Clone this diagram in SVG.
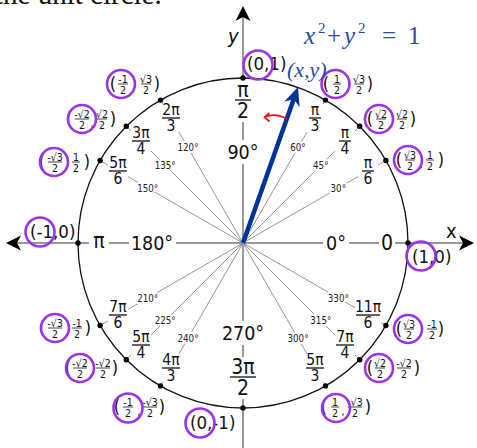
<svg xmlns="http://www.w3.org/2000/svg" width="477" height="448" viewBox="0 0 477 448">
<style>
text{font-family:"DejaVu Sans Condensed","DejaVu Sans",sans-serif;fill:#111}
.ax{stroke:#999;stroke-width:2;fill:none}
.ray{stroke:#8a8a8a;stroke-width:0.9}
.bg{fill:#fff}
.rn{font-size:15.5px;text-anchor:middle}
.bn{font-size:21px;text-anchor:middle}
.rb{stroke:#111;stroke-width:1.3}
.dg{font-size:9.7px;text-anchor:middle;stroke:#fff;stroke-width:4;paint-order:stroke;stroke-linejoin:round;fill:#222}
.bd{font-size:19.5px;text-anchor:middle}
.cp{font-size:18px;text-anchor:middle}
.cf{font-size:10.5px;text-anchor:middle}
.cm{font-size:11px;text-anchor:middle}
.fb{stroke:#111;stroke-width:0.8}
.pc{fill:none;stroke:#9a33ea;stroke-width:2.6}
.dot{fill:#000}
.blue{font-family:"Liberation Serif",serif;font-style:italic;fill:#2a4ca6}
</style>
<g id="title"><text x="-5" y="4" style="font-family:'Liberation Serif',serif;font-size:29px">the unit circle.</text></g>
<g id="connectors">
<g id="rays">
<line class="ray" x1="243" y1="243" x2="385.9" y2="160.5"/>
<line class="ray" x1="243" y1="243" x2="359.7" y2="126.3"/>
<line class="ray" x1="243" y1="243" x2="325.5" y2="100.1"/>
<line class="ray" x1="243" y1="243" x2="160.5" y2="100.1"/>
<line class="ray" x1="243" y1="243" x2="126.3" y2="126.3"/>
<line class="ray" x1="243" y1="243" x2="100.1" y2="160.5"/>
<line class="ray" x1="243" y1="243" x2="100.1" y2="325.5"/>
<line class="ray" x1="243" y1="243" x2="126.3" y2="359.7"/>
<line class="ray" x1="243" y1="243" x2="160.5" y2="385.9"/>
<line class="ray" x1="243" y1="243" x2="325.5" y2="385.9"/>
<line class="ray" x1="243" y1="243" x2="359.7" y2="359.7"/>
<line class="ray" x1="243" y1="243" x2="385.9" y2="325.5"/>
</g>
<g id="axes">
<line class="ax" x1="17" y1="243" x2="463" y2="243"/>
<line class="ax" x1="243" y1="16" x2="243" y2="448"/>
<polygon points="6,243 21,235.5 17,243 21,250.5" fill="#000"/>
<polygon points="474,243 459,235.5 463,243 459,250.5" fill="#000"/>
<polygon points="243,6 250.5,21 243,17 235.5,21" fill="#000"/>
</g>
</g>
<g id="radian-labels">
<g id="r30"><rect class="bg" x="358" y="157" width="20" height="28"/><text class="rn" x="368" y="168">π</text><line class="rb" x1="362" y1="171" x2="374" y2="171"/><text class="rn" x="368" y="184">6</text></g>
<g id="r45"><rect class="bg" x="335" y="127" width="20" height="28"/><text class="rn" x="345" y="138">π</text><line class="rb" x1="339" y1="141" x2="351" y2="141"/><text class="rn" x="345" y="154">4</text></g>
<g id="r60"><rect class="bg" x="305" y="104" width="20" height="28"/><text class="rn" x="315" y="115">π</text><line class="rb" x1="309" y1="118" x2="321" y2="118"/><text class="rn" x="315" y="131">3</text></g>
<g id="r120"><rect class="bg" x="161" y="104" width="20" height="28"/><text class="rn" x="171" y="115">2π</text><line class="rb" x1="162" y1="118" x2="180" y2="118"/><text class="rn" x="171" y="131">3</text></g>
<g id="r135"><rect class="bg" x="131" y="127" width="20" height="28"/><text class="rn" x="141" y="138">3π</text><line class="rb" x1="132" y1="141" x2="150" y2="141"/><text class="rn" x="141" y="154">4</text></g>
<g id="r150"><rect class="bg" x="108" y="157" width="20" height="28"/><text class="rn" x="118" y="168">5π</text><line class="rb" x1="109" y1="171" x2="127" y2="171"/><text class="rn" x="118" y="184">6</text></g>
<g id="r210"><rect class="bg" x="108" y="301" width="20" height="28"/><text class="rn" x="118" y="312">7π</text><line class="rb" x1="109" y1="315" x2="127" y2="315"/><text class="rn" x="118" y="328">6</text></g>
<g id="r225"><rect class="bg" x="131" y="331" width="20" height="28"/><text class="rn" x="141" y="342">5π</text><line class="rb" x1="132" y1="345" x2="150" y2="345"/><text class="rn" x="141" y="358">4</text></g>
<g id="r240"><rect class="bg" x="161" y="354" width="20" height="28"/><text class="rn" x="171" y="365">4π</text><line class="rb" x1="162" y1="368" x2="180" y2="368"/><text class="rn" x="171" y="381">3</text></g>
<g id="r300"><rect class="bg" x="305" y="354" width="20" height="28"/><text class="rn" x="315" y="365">5π</text><line class="rb" x1="306" y1="368" x2="324" y2="368"/><text class="rn" x="315" y="381">3</text></g>
<g id="r315"><rect class="bg" x="335" y="331" width="20" height="28"/><text class="rn" x="345" y="342">7π</text><line class="rb" x1="336" y1="345" x2="354" y2="345"/><text class="rn" x="345" y="358">4</text></g>
<g id="r330"><rect class="bg" x="355" y="301" width="26" height="28"/><text class="rn" x="368" y="312">11π</text><line class="rb" x1="356" y1="315" x2="380" y2="315"/><text class="rn" x="368" y="328">6</text></g>
<g id="r90"><rect class="bg" x="232" y="80" width="22" height="42"/><text class="bn" x="243" y="97">π</text><line class="rb" x1="235" y1="100" x2="251" y2="100"/><text class="bn" x="243" y="118">2</text></g>
<g id="r270"><rect class="bg" x="229" y="357" width="28" height="42"/><text class="bn" x="243" y="374">3π</text><line class="rb" x1="230" y1="377" x2="256" y2="377"/><text class="bn" x="243" y="395">2</text></g>
<g id="r180"><rect class="bg" x="89" y="238" width="20" height="10"/><text class="bn" x="99" y="248">π</text></g>
<g id="r0"><rect class="bg" x="379" y="238" width="16" height="10"/><text class="bn" x="387" y="250">0</text></g>
</g>
<g id="degree-labels">
<text class="dg" x="338.3" y="191.5">30°</text>
<text class="dg" x="320.8" y="168.7">45°</text>
<text class="dg" x="298" y="151.2">60°</text>
<text class="dg" x="188" y="151.2">120°</text>
<text class="dg" x="165.2" y="168.7">135°</text>
<text class="dg" x="147.7" y="191.5">150°</text>
<text class="dg" x="147.7" y="301.5">210°</text>
<text class="dg" x="165.2" y="324.3">225°</text>
<text class="dg" x="188" y="341.8">240°</text>
<text class="dg" x="298" y="341.8">300°</text>
<text class="dg" x="320.8" y="324.3">315°</text>
<text class="dg" x="338.3" y="301.5">330°</text>
<rect class="bg" x="323" y="239" width="26" height="8"/><text class="bd" x="336" y="250">0°</text>
<rect class="bg" x="129" y="239" width="47" height="8"/><text class="bd" x="152" y="250">180°</text>
<rect class="bg" x="238" y="140" width="10" height="24"/><text class="bd" x="243" y="159">90°</text>
<rect class="bg" x="238" y="321" width="10" height="24"/><text class="bd" x="243" y="340">270°</text>
</g>
<g id="circle"><circle cx="243" cy="243" r="165" fill="none" stroke="#111" stroke-width="1.3"/></g>
<g id="points">
<circle class="dot" cx="408" cy="243" r="2.7"/><circle class="dot" cx="385.9" cy="160.5" r="2.7"/><circle class="dot" cx="359.7" cy="126.3" r="2.7"/><circle class="dot" cx="325.5" cy="100.1" r="2.7"/>
<circle class="dot" cx="243" cy="78" r="2.7"/><circle class="dot" cx="160.5" cy="100.1" r="2.7"/><circle class="dot" cx="126.3" cy="126.3" r="2.7"/><circle class="dot" cx="100.1" cy="160.5" r="2.7"/>
<circle class="dot" cx="78" cy="243" r="2.7"/><circle class="dot" cx="100.1" cy="325.5" r="2.7"/><circle class="dot" cx="126.3" cy="359.7" r="2.7"/><circle class="dot" cx="160.5" cy="385.9" r="2.7"/>
<circle class="dot" cx="243" cy="408" r="2.7"/><circle class="dot" cx="325.5" cy="385.9" r="2.7"/><circle class="dot" cx="359.7" cy="359.7" r="2.7"/><circle class="dot" cx="385.9" cy="325.5" r="2.7"/>
</g>
<g id="axis-labels">
<text x="228" y="43" style="font-size:20px;font-style:italic">y</text>
<text x="446" y="238" style="font-size:20px">x</text>
</g>
<g id="coords">
<g id="c0"><text x="412" y="263" style="font-size:18.5px">(1,0)</text><circle class="pc" cx="421" cy="256" r="14.5"/></g>
<g id="c90"><text x="247" y="70" style="font-size:18.5px">(0,1)</text><circle class="pc" cx="258" cy="65" r="14.5"/></g>
<g id="c180"><text x="30" y="238" style="font-size:18.5px">(-1,0)</text><circle class="pc" cx="40" cy="232" r="14.5"/></g>
<g id="c270"><text x="190" y="429" style="font-size:18.5px">(0,-1)</text><circle class="pc" cx="200" cy="423" r="14.5"/></g>
<g id="c60"><text class="cp" x="326" y="90">(</text><text class="cf" x="337" y="82.5">1</text><line class="fb" x1="333" y1="84" x2="341" y2="84"/><text class="cf" x="337" y="93.5">2</text><text class="cm" x="347" y="92">,</text><text class="cf" x="359" y="82.5">√3</text><line class="fb" x1="354" y1="84" x2="364" y2="84"/><text class="cf" x="359" y="93.5">2</text><text class="cp" x="370" y="90">)</text><circle class="pc" cx="335.5" cy="84" r="14"/></g>
<g id="c45"><text class="cp" x="370" y="125">(</text><text class="cf" x="381" y="117.5">√2</text><line class="fb" x1="376" y1="119" x2="386" y2="119"/><text class="cf" x="381" y="128.5">2</text><text class="cm" x="391" y="127">,</text><text class="cf" x="402" y="117.5">√2</text><line class="fb" x1="397" y1="119" x2="407" y2="119"/><text class="cf" x="402" y="128.5">2</text><text class="cp" x="413" y="125">)</text><circle class="pc" cx="379" cy="119" r="14"/></g>
<g id="c30"><text class="cp" x="399" y="166">(</text><text class="cf" x="410" y="158.5">√3</text><line class="fb" x1="405" y1="160" x2="415" y2="160"/><text class="cf" x="410" y="169.5">2</text><text class="cm" x="421" y="168">,</text><text class="cf" x="430" y="158.5">1</text><line class="fb" x1="426" y1="160" x2="434" y2="160"/><text class="cf" x="430" y="169.5">2</text><text class="cp" x="441" y="166">)</text><circle class="pc" cx="408" cy="160" r="14"/></g>
<g id="c120"><text class="cp" x="113" y="90">(</text><text class="cf" x="123" y="82.5">-1</text><line class="fb" x1="118" y1="84" x2="128" y2="84"/><text class="cf" x="123" y="93.5">2</text><text class="cm" x="133" y="92">,</text><text class="cf" x="146" y="82.5">√3</text><line class="fb" x1="141" y1="84" x2="151" y2="84"/><text class="cf" x="146" y="93.5">2</text><text class="cp" x="157" y="90">)</text><circle class="pc" cx="121" cy="84" r="14"/></g>
<g id="c135"><text class="cp" x="69" y="125">(</text><text class="cf" x="82" y="117.5">-√2</text><line class="fb" x1="75" y1="119" x2="89" y2="119"/><text class="cf" x="82" y="128.5">2</text><text class="cm" x="92" y="127">,</text><text class="cf" x="102" y="117.5">√2</text><line class="fb" x1="97" y1="119" x2="107" y2="119"/><text class="cf" x="102" y="128.5">2</text><text class="cp" x="113" y="125">)</text><circle class="pc" cx="82" cy="119" r="14"/></g>
<g id="c150"><text class="cp" x="42" y="168">(</text><text class="cf" x="55" y="160.5">-√3</text><line class="fb" x1="48" y1="162" x2="62" y2="162"/><text class="cf" x="55" y="171.5">2</text><text class="cm" x="66" y="170">,</text><text class="cf" x="76" y="160.5">1</text><line class="fb" x1="72" y1="162" x2="80" y2="162"/><text class="cf" x="76" y="171.5">2</text><text class="cp" x="87" y="168">)</text><circle class="pc" cx="54" cy="162" r="14"/></g>
<g id="c210"><text class="cp" x="42" y="334">(</text><text class="cf" x="55" y="326.5">-√3</text><line class="fb" x1="48" y1="328" x2="62" y2="328"/><text class="cf" x="55" y="337.5">2</text><text class="cm" x="66" y="336">,</text><text class="cf" x="77" y="326.5">-1</text><line class="fb" x1="72" y1="328" x2="82" y2="328"/><text class="cf" x="77" y="337.5">2</text><text class="cp" x="88" y="334">)</text><circle class="pc" cx="55" cy="328" r="14"/></g>
<g id="c225"><text class="cp" x="68" y="374">(</text><text class="cf" x="80" y="366.5">-√2</text><line class="fb" x1="73" y1="368" x2="87" y2="368"/><text class="cf" x="80" y="377.5">2</text><text class="cm" x="91" y="376">,</text><text class="cf" x="103" y="366.5">-√2</text><line class="fb" x1="96" y1="368" x2="110" y2="368"/><text class="cf" x="103" y="377.5">2</text><text class="cp" x="115" y="374">)</text><circle class="pc" cx="80" cy="368" r="14"/></g>
<g id="c240"><text class="cp" x="117" y="413">(</text><text class="cf" x="128" y="405.5">-1</text><line class="fb" x1="123" y1="407" x2="133" y2="407"/><text class="cf" x="128" y="416.5">2</text><text class="cm" x="139" y="415">,</text><text class="cf" x="150" y="405.5">-√3</text><line class="fb" x1="143" y1="407" x2="157" y2="407"/><text class="cf" x="150" y="416.5">2</text><text class="cp" x="162" y="413">)</text><circle class="pc" cx="128" cy="408" r="14.5"/></g>
<g id="c300"><text class="cp" x="324" y="413">(</text><text class="cf" x="335" y="405.5">1</text><line class="fb" x1="331" y1="407" x2="339" y2="407"/><text class="cf" x="335" y="416.5">2</text><text class="cm" x="343" y="415">,</text><text class="cf" x="355" y="405.5">-√3</text><line class="fb" x1="348" y1="407" x2="362" y2="407"/><text class="cf" x="355" y="416.5">2</text><text class="cp" x="368" y="413">)</text><circle class="pc" cx="336" cy="408" r="14"/></g>
<g id="c315"><text class="cp" x="370" y="374">(</text><text class="cf" x="380" y="366.5">√2</text><line class="fb" x1="375" y1="368" x2="385" y2="368"/><text class="cf" x="380" y="377.5">2</text><text class="cm" x="391" y="376">,</text><text class="cf" x="404" y="366.5">-√2</text><line class="fb" x1="397" y1="368" x2="411" y2="368"/><text class="cf" x="404" y="377.5">2</text><text class="cp" x="417" y="374">)</text><circle class="pc" cx="379" cy="368" r="14"/></g>
<g id="c330"><text class="cp" x="399" y="335">(</text><text class="cf" x="409" y="327.5">√3</text><line class="fb" x1="404" y1="329" x2="414" y2="329"/><text class="cf" x="409" y="338.5">2</text><text class="cm" x="420" y="337">,</text><text class="cf" x="432" y="327.5">-1</text><line class="fb" x1="427" y1="329" x2="437" y2="329"/><text class="cf" x="432" y="338.5">2</text><text class="cp" x="441" y="335">)</text><circle class="pc" cx="408" cy="329" r="14"/></g>
</g>
<g id="vector">
<line x1="243" y1="243" x2="294.5" y2="97" stroke="#003399" stroke-width="4.5"/>
<polygon points="298,87 299.6,107 293.7,99.3 284.4,101.5" fill="#003399"/>
<path d="M287,119 C280,115 272,114 265,117" fill="none" stroke="#e01010" stroke-width="1.7"/>
<path d="M269.5,113 L264.5,117.3 L269.5,121.5" fill="none" stroke="#e01010" stroke-width="1.7"/>
<text class="blue" x="287" y="77" style="font-size:22px">(x,y)</text>
</g>
<g id="equation">
<text class="blue" y="44" style="font-size:25px"><tspan x="304">x</tspan><tspan x="318" y="33" style="font-size:15px;font-style:normal">2</tspan><tspan x="327" y="44" style="font-style:normal">+</tspan><tspan x="344">y</tspan><tspan x="358" y="33" style="font-size:15px;font-style:normal">2</tspan><tspan x="382" y="44" style="font-style:normal">=</tspan><tspan x="408" style="font-style:normal">1</tspan></text>
</g>
</svg>
